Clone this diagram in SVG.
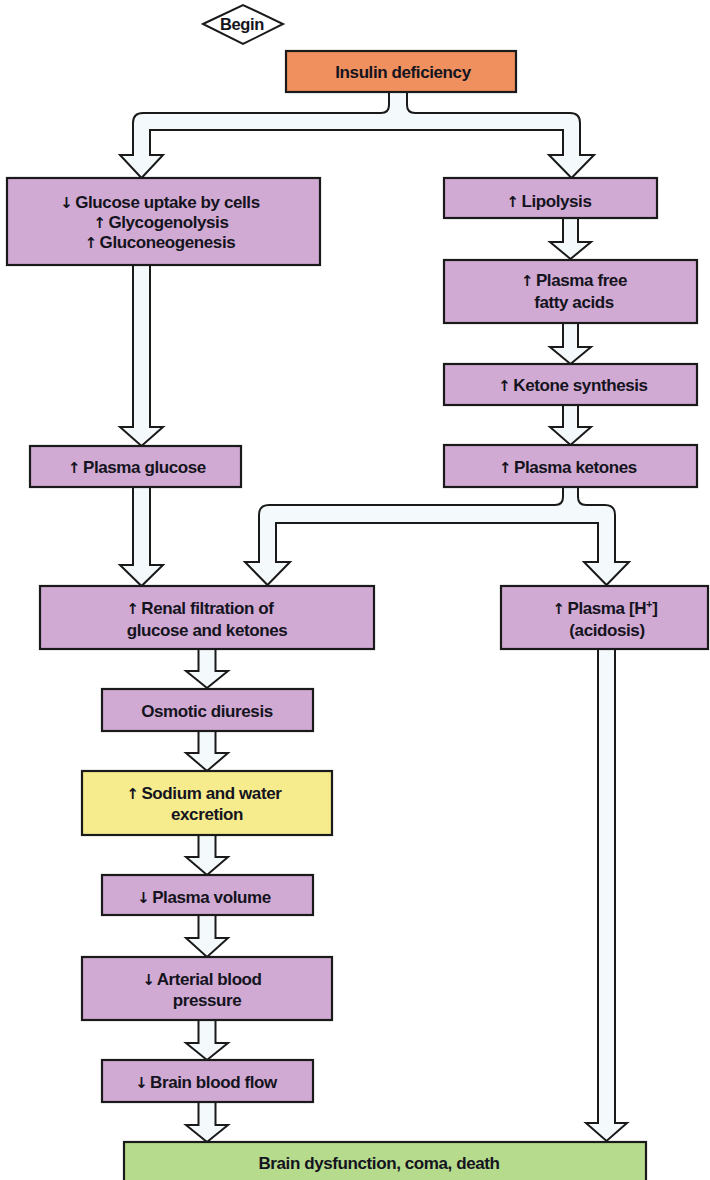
<svg xmlns="http://www.w3.org/2000/svg" width="710" height="1180" viewBox="0 0 710 1180">
<style>
.box{stroke:#1a1a1a;stroke-width:2.2}
.p{fill:#D1AAD3}
.o{fill:#F0905E}
.y{fill:#F6EC8E}
.g{fill:#B7DB8D}
.arr{fill:#F4FAFC;stroke:#1a1a1a;stroke-width:2;stroke-linejoin:miter}
text{font-family:"Liberation Sans",Arial,sans-serif;font-weight:bold;font-size:17px;letter-spacing:-0.4px;fill:#141420;text-anchor:middle}
.a{font-family:"DejaVu Sans",sans-serif;font-size:15px;letter-spacing:-2px}
</style>
<rect width="710" height="1180" fill="#ffffff"/>
<g id="connectors">
  <path class="arr" d="M389,92 V105 Q389,113 381,113 H143 Q133,113 133,123 V155 H120 L141.5,178 L163,155 H150 V130 H563 V155 H549 L571.5,178 L594,155 H580 V123 Q580,113 570,113 H415 Q407,113 407,105 V92 Z"/>
  <path class="arr" d="M563,487 V497 Q563,505 555,505 H269 Q259,505 259,515 V562 H245 L267.5,585 L290,562 H276 V523 H598 V562 H584 L606.5,585 L629,562 H615 V515 Q615,505 605,505 H586 Q578,505 578,497 V487 Z"/>
  <path class="arr" d="M563,218 V242 H550 L570.5,259 L591,242 H578 V218 Z"/>
  <path class="arr" d="M563,323 V347 H550 L570.5,364 L591,347 H578 V323 Z"/>
  <path class="arr" d="M563,405 V427 H550 L570.5,445 L591,427 H578 V405 Z"/>
  <path class="arr" d="M133,265 V427 H120 L141.5,446 L163,427 H150 V265 Z"/>
  <path class="arr" d="M133,487 V565 H120 L141.5,586 L163,565 H150 V487 Z"/>
  <path class="arr" d="M198.5,649 V671 H186 L207,688 L228,671 H215.5 V649 Z"/>
  <path class="arr" d="M198.5,731 V753 H186 L207,771 L228,753 H215.5 V731 Z"/>
  <path class="arr" d="M198.5,835 V857 H186 L207,875 L228,857 H215.5 V835 Z"/>
  <path class="arr" d="M198.5,915 V938 H186 L207,957 L228,938 H215.5 V915 Z"/>
  <path class="arr" d="M198.5,1020 V1043 H186 L207,1060 L228,1043 H215.5 V1020 Z"/>
  <path class="arr" d="M198.5,1102 V1125 H186 L207,1142 L228,1125 H215.5 V1102 Z"/>
  <path class="arr" d="M598,649 V1123 H586 L606.5,1141 L627,1123 H615 V649 Z"/>
</g>
<g id="begin">
  <polygon points="203,24 243,5 283,24 243,44" fill="#ffffff" stroke="#1a1a1a" stroke-width="2"/>
  <text x="242" y="30" style="font-size:16.5px">Begin</text>
</g>
<g id="insulin">
  <rect class="box o" x="286" y="51" width="230" height="41"/>
  <text x="403" y="78">Insulin deficiency</text>
</g>
<g id="glucose-uptake">
  <rect class="box p" x="7" y="178" width="313" height="87"/>
  <text x="160" y="208"><tspan class="a">↓</tspan> Glucose uptake by cells</text>
  <text x="161" y="228"><tspan class="a">↑</tspan> Glycogenolysis</text>
  <text x="160" y="248"><tspan class="a">↑</tspan> Gluconeogenesis</text>
</g>
<g id="lipolysis">
  <rect class="box p" x="444" y="178" width="213" height="40"/>
  <text x="549" y="207"><tspan class="a">↑</tspan> Lipolysis</text>
</g>
<g id="ffa">
  <rect class="box p" x="444" y="260" width="253" height="63"/>
  <text x="574" y="286"><tspan class="a">↑</tspan> Plasma free</text>
  <text x="574" y="308">fatty acids</text>
</g>
<g id="ketone-synthesis">
  <rect class="box p" x="444" y="364" width="253" height="41"/>
  <text x="573" y="391"><tspan class="a">↑</tspan> Ketone synthesis</text>
</g>
<g id="plasma-ketones">
  <rect class="box p" x="444" y="445" width="253" height="42"/>
  <text x="568" y="473"><tspan class="a">↑</tspan> Plasma ketones</text>
</g>
<g id="plasma-glucose">
  <rect class="box p" x="30" y="446" width="211" height="41"/>
  <text x="137" y="473"><tspan class="a">↑</tspan> Plasma glucose</text>
</g>
<g id="renal">
  <rect class="box p" x="40" y="586" width="334" height="63"/>
  <text x="200" y="614"><tspan class="a">↑</tspan> Renal filtration of</text>
  <text x="207" y="636">glucose and ketones</text>
</g>
<g id="acidosis">
  <rect class="box p" x="501" y="586" width="207" height="63"/>
  <text x="605" y="614"><tspan class="a">↑</tspan> Plasma [H<tspan dy="-6" style="font-size:11px">+</tspan><tspan dy="6">]</tspan></text>
  <text x="607" y="636">(acidosis)</text>
</g>
<g id="osmotic">
  <rect class="box p" x="102" y="689" width="211" height="42"/>
  <text x="207" y="717">Osmotic diuresis</text>
</g>
<g id="sodium">
  <rect class="box y" x="82" y="771" width="250" height="64"/>
  <text x="204" y="799"><tspan class="a">↑</tspan> Sodium and water</text>
  <text x="207" y="820">excretion</text>
</g>
<g id="plasma-volume">
  <rect class="box p" x="102" y="875" width="211" height="40"/>
  <text x="204" y="903"><tspan class="a">↓</tspan> Plasma volume</text>
</g>
<g id="arterial">
  <rect class="box p" x="82" y="957" width="250" height="63"/>
  <text x="202" y="985"><tspan class="a">↓</tspan> Arterial blood</text>
  <text x="207" y="1006">pressure</text>
</g>
<g id="brain-flow">
  <rect class="box p" x="102" y="1060" width="211" height="42"/>
  <text x="206" y="1088"><tspan class="a">↓</tspan> Brain blood flow</text>
</g>
<g id="brain-dysfunction">
  <rect class="box g" x="124" y="1142" width="522" height="45"/>
  <text x="379" y="1169">Brain dysfunction, coma, death</text>
</g>
</svg>
